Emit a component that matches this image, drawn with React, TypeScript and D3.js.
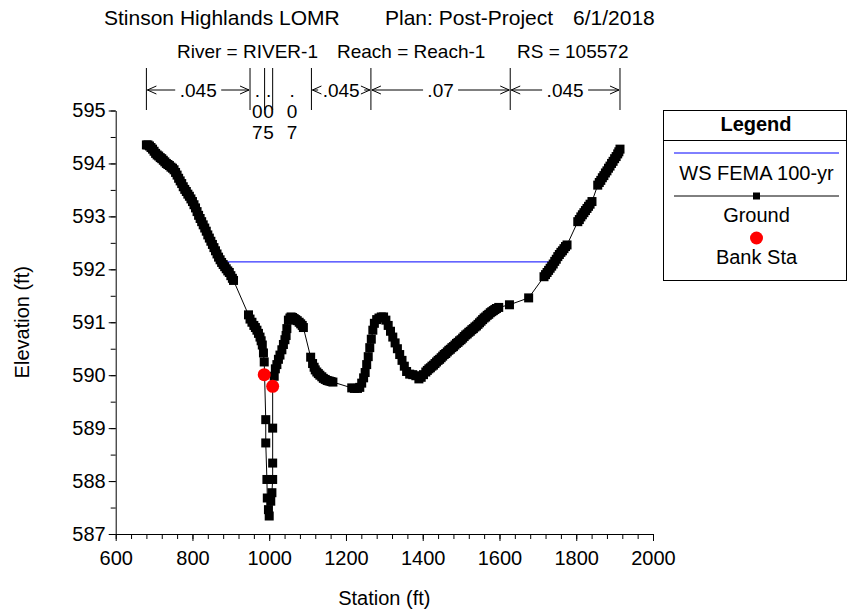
import React, { useEffect, useRef } from 'react';
import * as d3 from 'd3';

// ground profile (station ft, elevation ft)
const groundSta = [
  680, 684, 688, 692, 696, 700, 704, 708, 712, 716, 720, 724, 728, 732, 736, 740, 744, 748, 752, 756,
  760, 764, 768, 772, 776, 780, 784, 788, 792, 796, 800, 804, 808, 812, 816, 820, 824, 828, 832, 836,
  840, 844, 848, 852, 856, 860, 864, 868, 872, 876, 880, 884, 888, 892, 896, 900, 904, 907,
  946, 950, 955, 960, 964, 968, 972, 976, 979, 982, 985, 987,
  991, 991, 994, 995, 998, 1000, 1004, 1007, 1009, 1009, 1009, 1009,
  1013, 1016, 1020, 1024, 1028, 1033, 1037, 1041, 1044, 1046, 1050, 1054, 1057, 1061, 1065, 1069, 1073, 1078, 1082, 1086, 1089,
  1108, 1113, 1117, 1120, 1124, 1128, 1132, 1137, 1141, 1146, 1151, 1156, 1161, 1166,
  1215, 1222, 1230, 1236, 1241, 1246, 1250, 1254, 1258, 1262, 1266, 1270, 1274, 1280, 1286, 1292, 1298,
  1304, 1310, 1316, 1322, 1328, 1334, 1340, 1346, 1352, 1358, 1366, 1374, 1382, 1390,
  1396, 1402, 1408, 1412, 1416, 1420, 1424, 1428, 1432, 1436, 1440, 1444, 1448, 1452, 1456, 1460, 1464,
  1468, 1472, 1476, 1480, 1484, 1488, 1492, 1496, 1500, 1504, 1508, 1512, 1516, 1520, 1524, 1528, 1532,
  1536, 1540, 1544, 1548, 1552, 1556, 1560, 1564, 1568, 1572, 1576, 1580, 1584, 1588, 1592, 1598, 1626, 1676,
  1716, 1720, 1724, 1728, 1732, 1736, 1740, 1744, 1748, 1752, 1756, 1760, 1764, 1768, 1772, 1776,
  1804, 1808, 1812, 1816, 1820, 1824, 1828, 1832, 1836, 1841,
  1856, 1860, 1864, 1868, 1872, 1876, 1880, 1884, 1888, 1892, 1896, 1900, 1904, 1908, 1911, 1914
];
const groundElev = [
  594.35, 594.35, 594.33, 594.30, 594.27, 594.23, 594.19, 594.16, 594.14, 594.11, 594.09, 594.06, 594.03, 594.00, 593.98, 593.96, 593.93, 593.91, 593.88, 593.83,
  593.78, 593.72, 593.67, 593.62, 593.56, 593.51, 593.47, 593.42, 593.38, 593.33, 593.28, 593.22, 593.16, 593.09, 593.02, 592.96, 592.90, 592.84, 592.78, 592.72,
  592.65, 592.59, 592.53, 592.47, 592.41, 592.35, 592.29, 592.23, 592.18, 592.13, 592.09, 592.05, 592.01, 591.97, 591.94, 591.88, 591.83, 591.79,
  591.14, 591.06, 591.00, 590.94, 590.90, 590.85, 590.79, 590.72, 590.65, 590.57, 590.42, 590.25,
  589.16, 588.72, 588.03, 587.68, 587.46, 587.34, 587.62, 587.78, 588.03, 588.34, 589.00, 589.79,
  589.98, 590.12, 590.20, 590.30, 590.38, 590.48, 590.58, 590.67, 590.75, 590.88, 591.04, 591.08, 591.10, 591.09, 591.07, 591.05, 591.03, 591.00, 590.97, 590.94, 590.90,
  590.34, 590.22, 590.15, 590.10, 590.06, 590.03, 590.00, 589.97, 589.94, 589.92, 589.90, 589.89, 589.88, 589.87,
  589.76, 589.75, 589.75, 589.77, 589.85, 589.95, 590.05, 590.20, 590.35, 590.52, 590.68, 590.85, 590.98, 591.05, 591.08, 591.10, 591.10,
  591.04, 590.94, 590.83, 590.72, 590.61, 590.50, 590.39, 590.28, 590.17, 590.07, 590.02, 590.01, 589.99, 589.93,
  589.96, 590.01, 590.06, 590.09, 590.12, 590.14, 590.17, 590.19, 590.22, 590.25, 590.28, 590.30, 590.33, 590.36, 590.39, 590.41, 590.44,
  590.47, 590.49, 590.52, 590.54, 590.57, 590.60, 590.62, 590.65, 590.67, 590.70, 590.73, 590.76, 590.78, 590.81, 590.83, 590.86, 590.88,
  590.91, 590.93, 590.96, 590.99, 591.02, 591.05, 591.08, 591.10, 591.13, 591.15, 591.18, 591.20, 591.22, 591.24, 591.26, 591.28, 591.33, 591.46,
  591.86, 591.90, 591.94, 591.98, 592.02, 592.06, 592.10, 592.15, 592.19, 592.24, 592.28, 592.32, 592.35, 592.39, 592.43, 592.46,
  592.90, 592.94, 592.99, 593.03, 593.07, 593.11, 593.15, 593.19, 593.23, 593.28,
  593.59, 593.64, 593.68, 593.73, 593.77, 593.82, 593.86, 593.91, 593.95, 594.00, 594.04, 594.09, 594.13, 594.18, 594.22, 594.27
];

// bank stations
const bankSta = [987, 1009];
const bankElev = [590.01, 589.79];

// water surface
const wsSta = [876, 1743];
const wsElev = [592.14, 592.14];

// manning's n breaks and values
const nBreaks = [680, 950, 988, 1009, 1110, 1265, 1628, 1914];
const nValues = ['.045', '.07', '.05', '.07', '.045', '.07', '.045'];

const xTicks = [600, 800, 1000, 1200, 1400, 1600, 1800, 2000];
const yTicks = [587, 588, 589, 590, 591, 592, 593, 594, 595];

const titleParts = ['Stinson Highlands LOMR', 'Plan: Post-Project', '6/1/2018'];
const subtitleParts = ['River = RIVER-1', 'Reach = Reach-1', 'RS = 105572'];
const legendItems = ['WS FEMA 100-yr', 'Ground', 'Bank Sta'];

const FONT = '"Liberation Sans", Arial, sans-serif';

export default function App() {
  const svgRef = useRef(null);

  useEffect(() => {
    const svg = d3.select(svgRef.current);
    svg.selectAll('*').remove();

    const width = 847;
    const height = 616;
    const margin = { top: 110.5, left: 115.7, right: 194, bottom: 82 };
    const innerW = width - margin.left - margin.right;
    const innerH = height - margin.top - margin.bottom;

    const x = d3.scaleLinear().domain([600, 2000]).range([0, innerW]);
    const y = d3.scaleLinear().domain([587, 595]).range([innerH, 0]);

    svg.append('rect').attr('width', width).attr('height', height).attr('fill', '#fff');

    const g = svg.append('g').attr('transform', `translate(${margin.left},${margin.top})`);

    // titles
    const titleX = [104, 385, 573];
    titleParts.forEach((t, i) => {
      svg.append('text').attr('x', titleX[i]).attr('y', 25)
        .attr('font-size', 21).attr('font-family', FONT).attr('fill', '#000').text(t);
    });
    const subX = [177, 337, 517];
    subtitleParts.forEach((t, i) => {
      svg.append('text').attr('x', subX[i]).attr('y', 58)
        .attr('font-size', 19).attr('font-family', FONT).attr('fill', '#000').text(t);
    });

    // axes
    const minorX = d3.range(600, 2001, 40);
    const minorY = d3.range(587, 595.01, 0.5);

    g.append('g').attr('transform', `translate(0,${innerH})`)
      .call(d3.axisBottom(x).tickValues(minorX).tickSize(5).tickSizeOuter(0).tickFormat(() => ''))
      .call(a => a.select('.domain').remove());
    g.append('g').call(d3.axisLeft(y).tickValues(minorY).tickSize(5).tickSizeOuter(0).tickFormat(() => ''))
      .call(a => a.select('.domain').remove());

    const xAxis = g.append('g').attr('transform', `translate(0,${innerH})`)
      .call(d3.axisBottom(x).tickValues(xTicks).tickSize(7).tickSizeOuter(0).tickPadding(10).tickFormat(d3.format('d')));
    const yAxis = g.append('g')
      .call(d3.axisLeft(y).tickValues(yTicks).tickSize(7).tickSizeOuter(0).tickPadding(3).tickFormat(d3.format('d')));
    [xAxis, yAxis].forEach(a => {
      a.attr('font-size', 20).attr('font-family', FONT);
      a.selectAll('text').attr('fill', '#000');
      a.selectAll('line').attr('stroke', '#000');
      a.select('.domain').attr('stroke', '#000');
    });

    svg.append('text').attr('x', margin.left + innerW / 2).attr('y', 605)
      .attr('text-anchor', 'middle').attr('font-size', 20).attr('font-family', FONT).text('Station (ft)');
    svg.append('text').attr('transform', `translate(29,${margin.top + innerH / 2}) rotate(-90)`)
      .attr('text-anchor', 'middle').attr('font-size', 20).attr('font-family', FONT).text('Elevation (ft)');

    // manning's n annotations
    const nTop = 68 - margin.top;
    const nBot = 110 - margin.top;
    const nBase = 97 - margin.top;
    const arrowY = 90 - margin.top;
    const ann = g.append('g').attr('font-family', FONT).attr('font-size', 19);
    nBreaks.forEach(b => {
      ann.append('line').attr('x1', x(b)).attr('x2', x(b)).attr('y1', nTop).attr('y2', nBot)
        .attr('stroke', '#000').attr('stroke-width', 1);
    });
    const chevron = (px, dir) => {
      ann.append('path')
        .attr('d', `M${px - dir * 9},${arrowY - 4}L${px},${arrowY}L${px - dir * 9},${arrowY + 4}`)
        .attr('fill', 'none').attr('stroke', '#000').attr('stroke-width', 1);
    };
    nValues.forEach((v, i) => {
      const x0 = x(nBreaks[i]);
      const x1 = x(nBreaks[i + 1]);
      const cx = (x0 + x1) / 2;
      const tw = v.length === 4 ? 38 : 27;
      if (x1 - x0 - tw > 15) {
        ann.append('text').attr('x', cx).attr('y', nBase).attr('text-anchor', 'middle').text(v);
        const l = cx - tw / 2 - 4;
        const r = cx + tw / 2 + 4;
        ann.append('line').attr('x1', x0 + 1).attr('x2', l).attr('y1', arrowY).attr('y2', arrowY).attr('stroke', '#000');
        ann.append('line').attr('x1', r).attr('x2', x1 - 1).attr('y1', arrowY).attr('y2', arrowY).attr('stroke', '#000');
        chevron(x0 + 1, -1);
        chevron(x1 - 1, 1);
      } else {
        v.split('').forEach((c, k) => {
          ann.append('text').attr('x', cx).attr('y', nBase + k * 21).attr('text-anchor', 'middle').text(c);
        });
      }
    });

    // water surface
    g.append('path')
      .datum(wsSta.map((s, i) => [s, wsElev[i]]))
      .attr('d', d3.line().x(d => x(d[0])).y(d => y(d[1])))
      .attr('fill', 'none').attr('stroke', '#0000ff').attr('stroke-width', 1);

    // ground
    const ground = groundSta.map((s, i) => [s, groundElev[i]]);
    g.append('path').datum(ground)
      .attr('d', d3.line().x(d => x(d[0])).y(d => y(d[1])))
      .attr('fill', 'none').attr('stroke', '#000').attr('stroke-width', 1);
    g.selectAll('.gpt').data(ground).enter().append('rect')
      .attr('x', d => x(d[0]) - 4.5).attr('y', d => y(d[1]) - 4.5)
      .attr('width', 9).attr('height', 9).attr('fill', '#000');

    // bank stations
    g.selectAll('.bank').data(bankSta).enter().append('circle')
      .attr('cx', d => x(d)).attr('cy', (d, i) => y(bankElev[i])).attr('r', 6.5).attr('fill', '#ff0000');

    // legend
    const lg = svg.append('g').attr('font-family', FONT).attr('font-size', 20);
    const lx = 663.5, ly = 110.5, lw = 183, lh = 170;
    lg.append('rect').attr('x', lx).attr('y', ly).attr('width', lw).attr('height', lh)
      .attr('fill', '#fff').attr('stroke', '#000');
    lg.append('line').attr('x1', lx).attr('x2', lx + lw).attr('y1', 140.5).attr('y2', 140.5).attr('stroke', '#000');
    lg.append('text').attr('x', lx + lw / 2 + 1).attr('y', 131).attr('text-anchor', 'middle')
      .attr('font-weight', 'bold').text('Legend');
    lg.append('line').attr('x1', 674).attr('x2', 839).attr('y1', 153).attr('y2', 153).attr('stroke', '#0000ff');
    lg.append('line').attr('x1', 674).attr('x2', 839).attr('y1', 196).attr('y2', 196).attr('stroke', '#000');
    lg.append('rect').attr('x', 753).attr('y', 192.5).attr('width', 7).attr('height', 7).attr('fill', '#000');
    lg.append('circle').attr('cx', 756.5).attr('cy', 238).attr('r', 6.5).attr('fill', '#ff0000');
    const legY = [180, 222, 264];
    legendItems.forEach((t, i) => {
      lg.append('text').attr('x', 756.5).attr('y', legY[i]).attr('text-anchor', 'middle').text(t);
    });
  }, []);

  return (
    <div style={{ position: 'absolute', left: 0, top: 0 }}>
      <svg ref={svgRef} width={847} height={616} style={{ display: 'block' }} />
    </div>
  );
}
